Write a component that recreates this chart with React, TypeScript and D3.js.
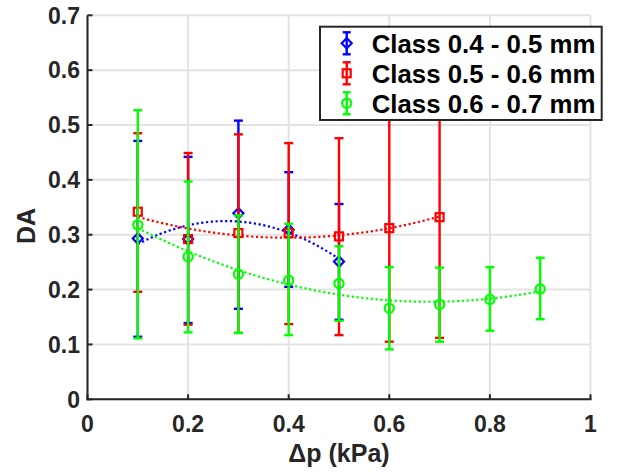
import React from "react";
import * as d3 from "d3";

const W = 626;
const H = 472;

const xTicks = [0, 0.2, 0.4, 0.6, 0.8, 1];
const yTicks = [0, 0.1, 0.2, 0.3, 0.4, 0.5, 0.6, 0.7];
const xTickLabels = ["0", "0.2", "0.4", "0.6", "0.8", "1"];
const yTickLabels = ["0", "0.1", "0.2", "0.3", "0.4", "0.5", "0.6", "0.7"];

const blueX = [0.1, 0.2, 0.3, 0.4, 0.5];
const blueY = [0.293, 0.292, 0.339, 0.309, 0.251];
const blueLo = [0.114, 0.139, 0.165, 0.205, 0.145];
const blueHi = [0.471, 0.442, 0.508, 0.414, 0.356];

const redX = [0.1, 0.2, 0.3, 0.4, 0.5, 0.6, 0.7];
const redY = [0.342, 0.292, 0.303, 0.303, 0.297, 0.312, 0.332];
const redLo = [0.196, 0.136, 0.121, 0.137, 0.117, 0.105, 0.112];
const redHi = [0.485, 0.449, 0.483, 0.467, 0.476, 0.519, 0.552];

const greenX = [0.1, 0.2, 0.3, 0.4, 0.5, 0.6, 0.7, 0.8, 0.9];
const greenY = [0.318, 0.26, 0.228, 0.217, 0.211, 0.166, 0.173, 0.182, 0.201];
const greenLo = [0.111, 0.122, 0.121, 0.117, 0.143, 0.091, 0.105, 0.125, 0.146];
const greenHi = [0.527, 0.397, 0.335, 0.32, 0.279, 0.241, 0.24, 0.241, 0.258];

const seriesNames = ["Class 0.4 - 0.5 mm", "Class 0.5 - 0.6 mm", "Class 0.6 - 0.7 mm"];
const seriesColors = ["#0000ff", "#ff0000", "#00ff00"];
const seriesMarkers = ["diamond", "square", "circle"];

const series = [
  { x: blueX, y: blueY, lo: blueLo, hi: blueHi },
  { x: redX, y: redY, lo: redLo, hi: redHi },
  { x: greenX, y: greenY, lo: greenLo, hi: greenHi },
];

// quadratic least-squares fit
function quadFit(xs: number[], ys: number[]) {
  let s0 = 0, s1 = 0, s2 = 0, s3 = 0, s4 = 0, t0 = 0, t1 = 0, t2 = 0;
  xs.forEach((x, i) => {
    const y = ys[i];
    s0 += 1; s1 += x; s2 += x * x; s3 += x * x * x; s4 += x * x * x * x;
    t0 += y; t1 += x * y; t2 += x * x * y;
  });
  const M = [
    [s0, s1, s2, t0],
    [s1, s2, s3, t1],
    [s2, s3, s4, t2],
  ];
  for (let i = 0; i < 3; i++) {
    for (let j = i + 1; j < 3; j++) {
      const f = M[j][i] / M[i][i];
      for (let k = i; k < 4; k++) M[j][k] -= f * M[i][k];
    }
  }
  const c = [0, 0, 0];
  for (let i = 2; i >= 0; i--) {
    let s = M[i][3];
    for (let k = i + 1; k < 3; k++) s -= M[i][k] * c[k];
    c[i] = s / M[i][i];
  }
  return (x: number) => c[0] + c[1] * x + c[2] * x * x;
}

const x = d3.scaleLinear().domain([0, 1]).range([87.5, 590.5]);
const y = d3.scaleLinear().domain([0, 0.7]).range([399.3, 15.3]);

const AX = "#262626";
const FONT = "'Liberation Sans', Arial, Helvetica, sans-serif";

function Marker({ type, cx, cy, color }: { type: string; cx: number; cy: number; color: string }) {
  if (type === "diamond") {
    const p = `M${cx},${cy - 5.2}L${cx + 5},${cy}L${cx},${cy + 5.2}L${cx - 5},${cy}Z`;
    return <path d={p} fill="none" stroke={color} strokeWidth={2.2} />;
  }
  if (type === "square") {
    return <rect x={cx - 4} y={cy - 4} width={8} height={8} fill="none" stroke={color} strokeWidth={2.2} />;
  }
  return <circle cx={cx} cy={cy} r={4.6} fill="none" stroke={color} strokeWidth={2.2} />;
}

export default function App() {
  const line = d3.line<[number, number]>().x((d) => x(d[0])).y((d) => y(d[1]));
  return (
    <svg width={W} height={H} style={{ position: "fixed", left: 0, top: 0, background: "#fff" }} fontFamily={FONT}>
      <rect x={0} y={0} width={W} height={H} fill="#fff" />
      {/* grid */}
      {xTicks.map((t) => (
        <line key={"gx" + t} x1={x(t)} x2={x(t)} y1={y(0)} y2={y(0.7)} stroke="#e3e3e3" strokeWidth={2} />
      ))}
      {yTicks.map((t) => (
        <line key={"gy" + t} x1={x(0)} x2={x(1)} y1={y(t)} y2={y(t)} stroke="#e3e3e3" strokeWidth={2} />
      ))}
      {/* fits */}
      {series.map((s, i) => {
        const f = quadFit(s.x, s.y);
        const x0 = s.x[0];
        const x1 = s.x[s.x.length - 1];
        const pts: [number, number][] = d3.range(0, 61).map((k) => {
          const xv = x0 + ((x1 - x0) * k) / 60;
          return [xv, f(xv)];
        });
        return (
          <path key={"fit" + i} d={line(pts) || ""} fill="none" stroke={seriesColors[i]} strokeWidth={2.2} strokeDasharray="2.2 2.6" />
        );
      })}
      {/* error bars & markers */}
      {series.map((s, i) => (
        <g key={"s" + i}>
          {s.x.map((xv, j) => {
            const cx = x(xv);
            return (
              <g key={j}>
                <line x1={cx} x2={cx} y1={y(s.lo[j])} y2={y(s.hi[j])} stroke={seriesColors[i]} strokeWidth={2.4} />
                <line x1={cx - 4.5} x2={cx + 4.5} y1={y(s.lo[j])} y2={y(s.lo[j])} stroke={seriesColors[i]} strokeWidth={2.4} />
                <line x1={cx - 4.5} x2={cx + 4.5} y1={y(s.hi[j])} y2={y(s.hi[j])} stroke={seriesColors[i]} strokeWidth={2.4} />
                <Marker type={seriesMarkers[i]} cx={cx} cy={y(s.y[j])} color={seriesColors[i]} />
              </g>
            );
          })}
        </g>
      ))}
      {/* axes */}
      <line x1={x(0)} x2={x(0)} y1={y(0) + 1} y2={y(0.7)} stroke={AX} strokeWidth={2} />
      <line x1={x(0) - 1} x2={x(1) + 1} y1={y(0)} y2={y(0)} stroke={AX} strokeWidth={2} />
      {xTicks.map((t, i) => (
        <g key={"xt" + t}>
          <line x1={x(t)} x2={x(t)} y1={y(0)} y2={y(0) - 5} stroke={AX} strokeWidth={2} />
          <text x={x(t)} y={431.7} textAnchor="middle" fontSize={23} fontWeight="bold" fill={AX}>
            {xTickLabels[i]}
          </text>
        </g>
      ))}
      {yTicks.map((t, i) => (
        <g key={"yt" + t}>
          <line x1={x(0)} x2={x(0) + 5} y1={y(t)} y2={y(t)} stroke={AX} strokeWidth={2} />
          <text x={80} y={y(t) + 8.3} textAnchor="end" fontSize={23} fontWeight="bold" fill={AX}>
            {yTickLabels[i]}
          </text>
        </g>
      ))}
      <text x={339} y={461.7} textAnchor="middle" fontSize={25} fontWeight="bold" fill={AX}>
        Δp (kPa)
      </text>
      <text transform="translate(34.5,226) rotate(-90)" textAnchor="middle" fontSize={25} fontWeight="bold" fill={AX}>
        DA
      </text>
      {/* legend */}
      <rect x={320} y={26.7} width={281.7} height={93.3} fill="#fff" stroke={AX} strokeWidth={2} />
      {seriesNames.map((name, i) => {
        const cy = 43.3 + i * 30;
        const cx = 346.7;
        const c = seriesColors[i];
        return (
          <g key={"lg" + i}>
            <line x1={cx} x2={cx} y1={cy - 11} y2={cy + 11} stroke={c} strokeWidth={2.4} />
            <line x1={cx - 4} x2={cx + 4} y1={cy - 11} y2={cy - 11} stroke={c} strokeWidth={2.4} />
            <line x1={cx - 4} x2={cx + 4} y1={cy + 11} y2={cy + 11} stroke={c} strokeWidth={2.4} />
            <Marker type={seriesMarkers[i]} cx={cx} cy={cy} color={c} />
            <text x={371.7} y={cy + 9.3} fontSize={25.8} fontWeight="bold" fill="#000">
              {name}
            </text>
          </g>
        );
      })}
    </svg>
  );
}
